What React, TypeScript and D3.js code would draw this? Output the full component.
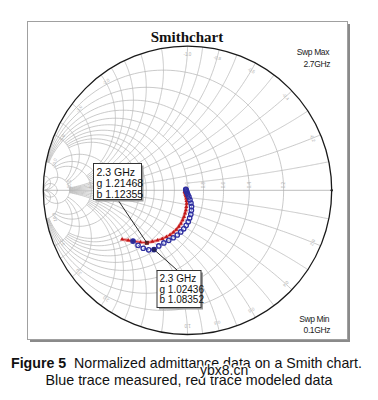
import React from "react";
import * as d3 from "d3";

// Sweep frequencies (GHz)
const freqGHz = [0.1, 0.2, 0.3, 0.4, 0.5, 0.6, 0.7, 0.8, 0.9, 1.0, 1.1, 1.2, 1.3, 1.4, 1.5, 1.6, 1.7, 1.8, 1.9, 2.0, 2.1, 2.2, 2.3, 2.4, 2.5, 2.6, 2.7];

const measuredRe = [-0.012, -0.010, -0.008, -0.006, -0.002, 0.003, 0.010, 0.017, 0.024, 0.028, 0.027, 0.023, 0.015, 0.005, -0.009, -0.026, -0.047, -0.071, -0.099, -0.130, -0.164, -0.199, -0.232, -0.269, -0.307, -0.343, -0.378];
const measuredIm = [0.007, 0.003, -0.003, -0.010, -0.019, -0.031, -0.046, -0.066, -0.088, -0.113, -0.139, -0.166, -0.192, -0.218, -0.243, -0.267, -0.289, -0.310, -0.329, -0.347, -0.365, -0.386, -0.411, -0.413, -0.402, -0.381, -0.352];

// Modeled trace (red)
const modeledRe = [-0.021, -0.019, -0.017, -0.015, -0.012, -0.009, -0.007, -0.006, -0.008, -0.011, -0.017, -0.024, -0.034, -0.046, -0.060, -0.078, -0.098, -0.121, -0.146, -0.175, -0.208, -0.244, -0.282, -0.326, -0.369, -0.411, -0.454];
const modeledIm = [-0.008, -0.013, -0.020, -0.029, -0.041, -0.055, -0.073, -0.092, -0.114, -0.137, -0.160, -0.184, -0.207, -0.230, -0.252, -0.273, -0.292, -0.309, -0.323, -0.336, -0.347, -0.356, -0.364, -0.360, -0.354, -0.347, -0.340];

// Marker readouts at 2.3 GHz
const markerTitle = ["2.3 GHz", "2.3 GHz"];
const markerG = [1.21468, 1.02436];
const markerB = [1.12355, 1.08352];

// Admittance grid values
const gCircles = [0.2, 0.4, 0.6, 0.8, 1.0, 1.2, 1.4, 1.6, 1.8, 2.0, 3.0, 4.0, 5.0, 10, 20];
const gLimits = [10, 10, 10, 10, 10, 5, 5, 5, 5, 5, 10, 10, 10, Infinity, Infinity];
const bArcs = [0.1, 0.2, 0.3, 0.4, 0.5, 0.6, 0.7, 0.8, 0.9, 1.0, 1.2, 1.4, 1.6, 1.8, 2.0, 3.0, 4.0, 5.0, 10, 20];
const bLimits = [1, 10, 1, 10, 1, 10, 1, 10, 1, 10, 5, 5, 5, 5, 5, 10, 10, 10, Infinity, Infinity];
const axisLabels = ["0.2", "0.4", "0.6", "0.8", "1.0", "2.0", "3.0", "5.0", "10.0"];
const axisLabelG = [0.2, 0.4, 0.6, 0.8, 1.0, 2.0, 3.0, 5.0, 10];
const rimLabelB = [0.2, 0.4, 0.6, 0.8, 1.0, 2.0, 3.0, 5.0, 10];

const W = 378, H = 400;
const cx = 187.5, cy = 190.3, R = 144.2;

const sx = d3.scaleLinear().domain([-1, 1]).range([cx - R, cx + R]);
const sy = d3.scaleLinear().domain([-1, 1]).range([cy + R, cy - R]);

function gammaOf(g: number, b: number): [number, number] {
  const den = (1 + g) * (1 + g) + b * b;
  return [(1 - g * g - b * b) / den, (-2 * b) / den];
}

const lineGen = d3
  .line<[number, number]>()
  .x((d) => sx(d[0]))
  .y((d) => sy(d[1]));

function sampleAtan(lo: number, hi: number, n = 160): number[] {
  const a = Math.atan(lo), c = Math.atan(hi);
  const out: number[] = [];
  for (let i = 0; i <= n; i++) {
    const t = a + ((c - a) * i) / n;
    out.push(Math.tan(Math.min(Math.max(t, -Math.PI / 2 + 1e-6), Math.PI / 2 - 1e-6)));
  }
  return out;
}

function gPath(g: number, lim: number): string {
  const pts = sampleAtan(-lim, lim).map((b) => gammaOf(g, b));
  return lineGen(pts) || "";
}
function bPath(b: number, lim: number): string {
  const pts = sampleAtan(0, lim).map((g) => gammaOf(g, b));
  return lineGen(pts) || "";
}

export default function App() {
  const meas = measuredRe.map((r, i) => [r, measuredIm[i]] as [number, number]);
  const mod = modeledRe.map((r, i) => [r, modeledIm[i]] as [number, number]);
  const i23 = freqGHz.indexOf(2.3);
  const redM = gammaOf(markerG[0], markerB[0]);
  const blueM = gammaOf(markerG[1], markerB[1]);
  const sans = "Arial, 'Liberation Sans', Helvetica, sans-serif";

  const tri = d3.symbol(d3.symbolTriangle, 7)() || "";

  return (
    <svg width={W} height={H} style={{ position: "absolute", left: 0, top: 0, background: "#fff" }}>
      <defs>
        <clipPath id="unit">
          <circle cx={cx} cy={cy} r={R} />
        </clipPath>
      </defs>
      <rect x={0} y={0} width={W} height={H} fill="#fff" />
      {/* frame with shadow */}
      <rect x={30} y={24} width={320} height={318} fill="#8a8a8a" />
      <rect x={27.5} y={21.5} width={320} height={318} fill="#fff" stroke="#a0a0a0" strokeWidth={1} />

      <text x={187} y={42} textAnchor="middle" fontFamily="'Liberation Serif', 'Times New Roman', serif" fontWeight="bold" fontSize={15} fill="#111">
        Smithchart
      </text>

      {/* grid */}
      <g clipPath="url(#unit)" fill="none" stroke="#b8b8b8" strokeWidth={0.75}>
        {gCircles.map((g, i) => (
          <path key={"g" + i} d={gPath(g, gLimits[i])} />
        ))}
        {bArcs.map((b, i) => (
          <path key={"bp" + i} d={bPath(b, bLimits[i])} />
        ))}
        {bArcs.map((b, i) => (
          <path key={"bn" + i} d={bPath(-b, bLimits[i])} />
        ))}
        <line x1={sx(-1)} x2={sx(1)} y1={sy(0)} y2={sy(0)} stroke="#a8a8a8" />
      </g>
      {/* grid labels */}
      <g fontFamily={sans} fontSize={4.5} fill="#b0b0b0">
        {axisLabelG.map((g, i) => {
          const [u] = gammaOf(g, 0);
          return (
            <text key={"al" + i} x={sx(u) + 1.5} y={sy(0) - 2} transform={`rotate(-90 ${sx(u) + 1.5} ${sy(0) - 2})`}>
              {axisLabels[i]}
            </text>
          );
        })}
        {rimLabelB.flatMap((b, i) =>
          [b, -b].map((bb, k) => {
            const [u, v] = gammaOf(0, bb);
            const px = sx(u * 0.93), py = sy(v * 0.93);
            const ang = (Math.atan2(-v, u) * 180) / Math.PI + 90;
            return (
              <text key={"rl" + i + "_" + k} x={px} y={py} textAnchor="middle" transform={`rotate(${ang} ${px} ${py})`}>
                {(bb > 0 ? "" : "-") + Math.abs(bb).toFixed(1)}
              </text>
            );
          })
        )}
      </g>

      {/* outer circle */}
      <circle cx={cx} cy={cy} r={R} fill="none" stroke="#1a1a1a" strokeWidth={1.3} />
      <circle cx={sx(1)} cy={sy(0)} r={1.2} fill="#222" />

      {/* modeled trace (red) */}
      <path d={lineGen(mod) || ""} fill="none" stroke="#f2a3a3" strokeWidth={3.2} strokeLinejoin="round" />
      <path d={lineGen(mod) || ""} fill="none" stroke="#d42a2a" strokeWidth={1.1} strokeLinejoin="round" />
      {mod.map((p, i) => (
        <path key={"rm" + i} d={tri} transform={`translate(${sx(p[0])},${sy(p[1])})`} fill="#c01818" />
      ))}

      {/* measured trace (blue) */}
      <path d={lineGen(meas) || ""} fill="none" stroke="#6f86e6" strokeWidth={1} strokeDasharray="2,1.5" />
      {meas.map((p, i) => (
        <circle
          key={"bm" + i}
          cx={sx(p[0])}
          cy={sy(p[1])}
          r={2.2}
          fill={i === i23 || i === meas.length - 1 ? "#2a2a8c" : "none"}
          stroke="#2e2ea0"
          strokeWidth={1.3}
        />
      ))}

      {/* marker points */}
      <rect x={sx(redM[0]) - 2} y={sy(redM[1]) - 2} width={4} height={4} fill="#6b1f1f" />
      <circle cx={sx(blueM[0])} cy={sy(blueM[1])} r={2.4} fill="#222266" />

      {/* leader lines */}
      <line x1={118} y1={200} x2={sx(redM[0])} y2={sy(redM[1])} stroke="#2a2a2a" strokeWidth={1} />
      <line x1={sx(blueM[0])} y1={sy(blueM[1])} x2={177} y2={270} stroke="#2a2a2a" strokeWidth={1} />

      {/* marker boxes */}
      <g fontFamily={sans} fontSize={10.5} fill="#111">
        <rect x={95.5} y={165.5} width={48} height={36} fill="#999" />
        <rect x={93.5} y={163.5} width={48} height={36} fill="#fff" stroke="#333" strokeWidth={1} />
        <text x={96.5} y={175.5}>{markerTitle[0]}</text>
        <text x={96.5} y={186.5}>{"g " + markerG[0].toFixed(5)}</text>
        <text x={96.5} y={197.5}>{"b " + markerB[0].toFixed(5)}</text>

        <rect x={159} y={272.5} width={44} height={37} fill="#999" />
        <rect x={157} y={270.5} width={44} height={37} fill="#fff" stroke="#333" strokeWidth={1} />
        <text x={159.5} y={281.5} fontSize={10}>{markerTitle[1]}</text>
        <text x={159.5} y={292.5} fontSize={10}>{"g " + markerG[1].toFixed(5)}</text>
        <text x={159.5} y={303} fontSize={10}>{"b " + markerB[1].toFixed(5)}</text>
      </g>

      {/* sweep info */}
      <g fontFamily={sans} fontSize={8.5} fill="#222" textAnchor="end" letterSpacing={-0.4}>
        <text x={329} y={55}>Swp Max</text>
        <text x={330} y={67}>2.7GHz</text>
        <text x={329} y={322}>Swp Min</text>
        <text x={330} y={333}>0.1GHz</text>
      </g>

      {/* caption */}
      <text x={11} y={367.5} fontFamily={sans} fontSize={14.2} fill="#111">
        <tspan fontWeight="bold">Figure 5</tspan>
        <tspan>{"\u00a0 Normalized admittance data on a Smith chart."}</tspan>
      </text>
      <text x={189} y={385} textAnchor="middle" fontFamily={sans} fontSize={14.3} fill="#111">
        Blue trace measured, red trace modeled data
      </text>
      <text x={200} y={375} fontFamily={sans} fontSize={14} fill="#111" stroke="#fff" strokeWidth={3} paintOrder="stroke">
        ybx8.cn
      </text>
    </svg>
  );
}
